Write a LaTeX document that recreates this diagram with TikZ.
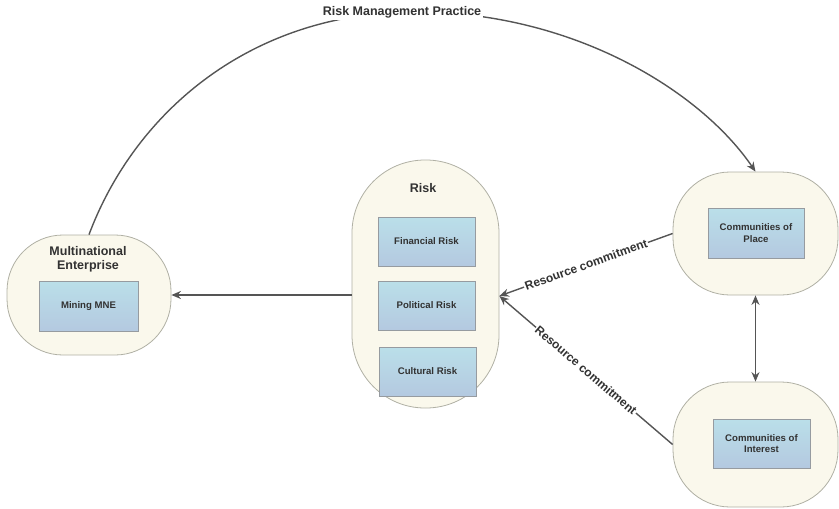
\documentclass[tikz,border=0pt]{standalone}
\usepackage{fontspec}
\setmainfont{Liberation Sans}
\usetikzlibrary{arrows.meta}
\definecolor{cream}{RGB}{250,248,236}
\definecolor{outerline}{RGB}{176,176,164}
\definecolor{boxtop}{RGB}{186,223,233}
\definecolor{boxbot}{RGB}{180,201,224}
\definecolor{boxline}{RGB}{150,155,160}
\definecolor{linecol}{RGB}{85,85,85}
\definecolor{txt}{RGB}{50,50,50}
\tikzset{
  outer/.style={draw=outerline, fill=cream, line width=0.8pt, inner sep=0pt},
  inbox/.style={draw=boxline, line width=0.7pt, top color=boxtop, bottom color=boxbot, inner sep=0pt,
    font=\fontsize{9.6}{11.5}\selectfont\bfseries, text=txt, align=center},
  title/.style={font=\fontsize{12.5}{14}\selectfont\bfseries, text=txt, align=center},
  arr/.style={draw=linecol, line width=1.4pt, -{Stealth[length=9.5pt,width=8pt]}},
  lbl/.style={fill=white, inner sep=1pt, font=\fontsize{12}{14}\selectfont\bfseries, text=txt}
}
\begin{document}
\begin{tikzpicture}[x=1pt,y=-1pt]
\useasboundingbox (0,0) rectangle (839,509);
% outer shapes
\node[outer, minimum width=164pt, minimum height=120pt, rounded corners=56pt] (mne) at (89,295) {};
\node[outer, minimum width=147pt, minimum height=248pt, rounded corners=73pt] (risk) at (425.5,284) {};
\node[outer, minimum width=165pt, minimum height=123pt, rounded corners=57pt] (cop) at (755.5,233.5) {};
\node[outer, minimum width=165pt, minimum height=125pt, rounded corners=57pt] (coi) at (755.5,444.5) {};
% titles
\node[title] (mnet) at (88,259) {Multinational\\Enterprise};
\node[title] (riskt) at (423,188) {Risk};
% inner boxes
\node[inbox, minimum width=99pt, minimum height=50pt] (mining) at (88.5,306) {Mining MNE};
\node[inbox, minimum width=97pt, minimum height=49pt] (fin) at (426.5,241.5) {Financial Risk};
\node[inbox, minimum width=97pt, minimum height=49pt] (pol) at (426.5,305.5) {Political Risk};
\node[inbox, minimum width=97pt, minimum height=49pt] (cul) at (427.5,371.5) {Cultural Risk};
\node[inbox, minimum width=96pt, minimum height=50pt] (copi) at (756,233) {Communities of\\Place};
\node[inbox, minimum width=97pt, minimum height=49pt] (coii) at (761.5,443.5) {Communities of\\Interest};
% connectors
\draw[arr] (risk.west |- mne.east) -- (mne.east);
\coordinate (rin) at ([yshift=-12pt]risk.east);
\draw[arr] (cop.west) -- node[lbl, sloped, midway] {Resource commitment} (rin);
\draw[arr] (coi.west) -- node[lbl, sloped, midway] {Resource commitment} (rin);
\draw[draw=linecol, line width=1.4pt, {Stealth[length=9.5pt,width=8pt]}-{Stealth[length=9.5pt,width=8pt]}] (cop.south) -- (coi.north);
\draw[arr] (mne.north) .. controls (135,112) and (250,14) .. (410,12)
  .. controls (570,10) and (700,90) .. (cop.north);
\node[lbl, font=\fontsize{12.5}{14}\selectfont\bfseries, inner sep=2pt] (rmp) at (402,12) {Risk Management Practice};
\end{tikzpicture}
\end{document}
